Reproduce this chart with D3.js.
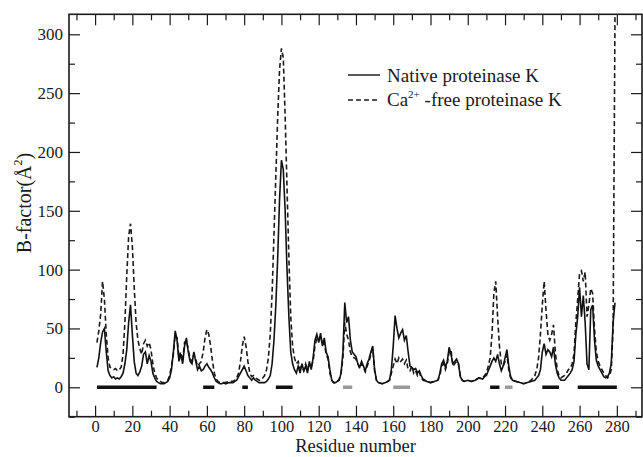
<!DOCTYPE html>
<html>
<head>
<meta charset="utf-8">
<script src="https://cdn.jsdelivr.net/npm/d3@7"></script>
<style>
    html, body { margin: 0; padding: 0; background: #fff; }
    svg text { font-family: "Liberation Serif", "Times New Roman", serif; fill: #1a1a1a; }
</style>
</head>
<body>
<div id="chart"></div>
<script>
// residue numbers shared by both series
const residues = [
    1, 2, 3, 4, 5, 6, 7, 8, 9, 10, 11, 12, 13, 14, 15, 16, 17, 18, 19, 20,
    21, 22, 23, 24, 25, 26, 27, 28, 29, 30, 31, 32, 33, 34, 35, 36, 37, 38, 39, 40,
    41, 42, 43, 44, 45, 46, 47, 48, 49, 50, 51, 52, 53, 54, 55, 56, 57, 58, 59, 60,
    61, 62, 63, 64, 65, 66, 67, 68, 69, 70, 72, 74, 75, 76, 77, 78, 79, 80,
    81, 82, 83, 84, 85, 86, 87, 88, 89, 90, 91, 92, 93, 94, 95, 96, 97, 98, 99, 100,
    101, 102, 103, 104, 105, 106, 107, 108, 109, 110, 111, 112, 113, 114, 115, 116, 117, 118, 119, 120,
    121, 122, 123, 124, 125, 126, 127, 128, 129, 130, 131, 132, 133, 134, 135, 136, 137, 138, 139, 140,
    141, 142, 143, 144, 145, 146, 147, 148, 149, 150, 151, 152, 154, 156, 158, 159, 160,
    161, 162, 163, 164, 165, 166, 167, 168, 169, 170, 171, 172, 173, 174, 175, 176, 178, 180,
    182, 184, 185, 186, 187, 188, 189, 190, 191, 192, 193, 194, 195, 196, 197, 198, 200,
    202, 204, 206, 208, 209, 210, 211, 212, 213, 214, 215, 216, 217, 218, 219, 220,
    221, 222, 223, 224, 226, 228, 230, 232, 234, 236, 237, 238, 239, 240,
    241, 242, 243, 244, 245, 246, 247, 248, 249, 250, 252, 253, 254, 255, 256, 257, 258, 259, 260,
    261, 262, 263, 264, 265, 266, 267, 268, 269, 270, 271, 272, 273, 274, 275, 276, 277, 278, 279
];

const nativeB = [
    17, 25, 38, 47, 50, 30, 14, 10, 8, 9, 7, 8, 7, 9, 12, 20, 32, 55, 70, 45,
    22, 12, 10, 13, 18, 28, 30, 20, 27, 22, 12, 8, 5, 4, 3, 3, 3, 4, 5, 8,
    15, 30, 48, 40, 22, 28, 20, 35, 42, 30, 22, 20, 30, 22, 15, 18, 14, 15, 18, 20,
    17, 15, 12, 8, 5, 4, 3, 3, 4, 3, 4, 4, 5, 6, 9, 12, 15, 18,
    14, 10, 8, 6, 8, 6, 5, 4, 4, 4, 4, 5, 7, 10, 20, 40, 70, 110, 160, 193,
    185, 150, 100, 60, 30, 20, 15, 12, 18, 12, 20, 14, 18, 12, 22, 15, 25, 40, 45, 38,
    46, 35, 42, 30, 26, 15, 6, 4, 4, 5, 6, 12, 30, 72, 55, 60, 40, 30, 28, 26,
    20, 17, 22, 18, 14, 20, 24, 30, 35, 15, 6, 4, 3, 4, 6, 15, 35,
    61, 50, 42, 46, 49, 40, 44, 30, 18, 17, 15, 16, 12, 14, 10, 7, 5, 4,
    5, 6, 12, 20, 23, 17, 22, 34, 28, 20, 22, 24, 20, 9, 6, 5, 6,
    5, 6, 8, 7, 9, 10, 14, 18, 22, 25, 22, 28, 20, 14, 18, 25,
    32, 18, 9, 6, 5, 4, 3, 4, 5, 6, 8, 10, 15, 30,
    37, 28, 32, 30, 26, 34, 20, 12, 8, 6, 6, 8, 10, 12, 15, 22, 45, 60, 85,
    60, 78, 55, 20, 15, 66, 70, 40, 23, 18, 15, 12, 9, 8, 9, 12, 20, 55, 72
];

const caFreeB = [
    38, 48, 62, 90, 75, 45, 25, 17, 16, 15, 16, 14, 15, 17, 28, 55, 95, 128, 139, 120,
    85, 55, 40, 33, 28, 37, 40, 35, 38, 32, 20, 12, 8, 6, 5, 4, 4, 5, 6, 10,
    18, 28, 45, 42, 25, 30, 22, 38, 40, 32, 24, 22, 28, 24, 18, 20, 22, 30, 42, 49,
    45, 35, 22, 12, 7, 5, 4, 4, 4, 4, 5, 5, 6, 8, 12, 22, 35, 43,
    35, 22, 12, 9, 10, 8, 7, 6, 6, 8, 10, 15, 25, 45, 80, 130, 180, 230, 270, 288,
    280, 230, 170, 110, 60, 35, 25, 20, 22, 16, 18, 14, 20, 15, 20, 18, 22, 35, 42, 40,
    44, 36, 38, 28, 24, 12, 6, 4, 4, 5, 7, 12, 25, 55, 45, 40, 30, 26, 25, 24,
    20, 16, 20, 17, 13, 18, 22, 28, 33, 14, 6, 4, 3, 4, 6, 12, 18,
    24, 20, 25, 22, 24, 20, 23, 15, 14, 18, 12, 14, 10, 13, 8, 6, 5, 4,
    5, 6, 10, 18, 20, 15, 20, 30, 32, 18, 20, 22, 20, 10, 6, 5, 6,
    5, 6, 8, 8, 10, 12, 18, 25, 45, 80, 90, 60, 35, 20, 18, 22,
    28, 15, 8, 6, 5, 4, 3, 4, 6, 10, 15, 25, 45, 70,
    90, 65, 45, 40, 45, 53, 30, 15, 10, 8, 10, 12, 15, 16, 20, 28, 55, 75, 97,
    99, 90, 98, 60, 70, 84, 80, 50, 30, 22, 18, 15, 12, 10, 8, 10, 15, 50, 315
];

// secondary-structure bars drawn on the zero line: [start, end]
const helixSpans = [[1, 33], [58, 64], [79, 82], [97, 106], [212, 217], [240, 249], [259, 280]];
const strandSpans = [[133, 138], [160, 169], [220, 224]];

const xMajorTicks = d3.range(0, 281, 20);
const xMinorTicks = d3.range(-10, 291, 10);
const yMajorTicks = d3.range(0, 301, 50);
const yMinorTicks = d3.range(-25, 317, 25);

const width = 643;
const height = 457;
const plot = { left: 69, right: 642, top: 14.3, bottom: 416.7 };

const svg = d3.select('#chart').append('svg')
    .attr('width', width)
    .attr('height', height);

const xScale = d3.scaleLinear().domain([-14, 293.5]).range([plot.left, plot.right]);
const yScale = d3.scaleLinear().domain([-25, 317]).range([plot.bottom, plot.top]);

const innerW = plot.right - plot.left;
const innerH = plot.bottom - plot.top;

function styleAxis(group) {
    group.select('.domain').remove();
    group.selectAll('line').attr('stroke', '#1a1a1a').attr('stroke-width', 1.2);
}

// bottom axis with labels
svg.append('g')
    .attr('transform', `translate(0,${plot.bottom})`)
    .call(d3.axisBottom(xScale).tickValues(xMajorTicks).tickSize(-11).tickPadding(3.5))
    .call(styleAxis)
    .call((g) => g.selectAll('text').attr('font-size', 16.5).attr('fill', '#1a1a1a'));
svg.append('g')
    .attr('transform', `translate(0,${plot.bottom})`)
    .call(d3.axisBottom(xScale).tickValues(xMinorTicks.filter((t) => t % 20 !== 0)).tickSize(-6).tickFormat(''))
    .call(styleAxis);

// top mirror ticks
svg.append('g')
    .attr('transform', `translate(0,${plot.top})`)
    .call(d3.axisTop(xScale).tickValues(xMajorTicks).tickSize(-11).tickFormat(''))
    .call(styleAxis);
svg.append('g')
    .attr('transform', `translate(0,${plot.top})`)
    .call(d3.axisTop(xScale).tickValues(xMinorTicks.filter((t) => t % 20 !== 0)).tickSize(-6).tickFormat(''))
    .call(styleAxis);

// left axis with labels
svg.append('g')
    .attr('transform', `translate(${plot.left},0)`)
    .call(d3.axisLeft(yScale).tickValues(yMajorTicks).tickSize(-11).tickPadding(6))
    .call(styleAxis)
    .call((g) => g.selectAll('text').attr('font-size', 17).attr('fill', '#1a1a1a'));
svg.append('g')
    .attr('transform', `translate(${plot.left},0)`)
    .call(d3.axisLeft(yScale).tickValues(yMinorTicks.filter((t) => t % 50 !== 0)).tickSize(-6).tickFormat(''))
    .call(styleAxis);

// right mirror ticks
svg.append('g')
    .attr('transform', `translate(${plot.right},0)`)
    .call(d3.axisRight(yScale).tickValues(yMajorTicks).tickSize(-11).tickFormat(''))
    .call(styleAxis);
svg.append('g')
    .attr('transform', `translate(${plot.right},0)`)
    .call(d3.axisRight(yScale).tickValues(yMinorTicks.filter((t) => t % 50 !== 0)).tickSize(-6).tickFormat(''))
    .call(styleAxis);

// frame
svg.append('rect')
    .attr('x', plot.left)
    .attr('y', plot.top)
    .attr('width', innerW)
    .attr('height', innerH)
    .attr('fill', 'none')
    .attr('stroke', '#1a1a1a')
    .attr('stroke-width', 1.6);

svg.append('clipPath')
    .attr('id', 'plot-clip')
    .append('rect')
    .attr('x', plot.left)
    .attr('y', plot.top)
    .attr('width', innerW)
    .attr('height', innerH);

const plotArea = svg.append('g').attr('clip-path', 'url(#plot-clip)');

// secondary structure bars
plotArea.selectAll('.helix-bar')
    .data(helixSpans)
    .enter()
    .append('line')
    .attr('class', 'helix-bar')
    .attr('x1', (d) => xScale(d[0]))
    .attr('x2', (d) => xScale(d[1]))
    .attr('y1', yScale(0))
    .attr('y2', yScale(0))
    .attr('stroke', '#111')
    .attr('stroke-width', 3.6);

plotArea.selectAll('.strand-bar')
    .data(strandSpans)
    .enter()
    .append('line')
    .attr('class', 'strand-bar')
    .attr('x1', (d) => xScale(d[0]))
    .attr('x2', (d) => xScale(d[1]))
    .attr('y1', yScale(0))
    .attr('y2', yScale(0))
    .attr('stroke', '#9a9a9a')
    .attr('stroke-width', 3.6);

const lineGen = (values) => d3.line()
    .x((d, i) => xScale(residues[i]))
    .y((d) => yScale(d))(values);

plotArea.append('path')
    .attr('d', lineGen(caFreeB))
    .attr('fill', 'none')
    .attr('stroke', '#1a1a1a')
    .attr('stroke-width', 1.6)
    .attr('stroke-dasharray', '5,3');

plotArea.append('path')
    .attr('d', lineGen(nativeB))
    .attr('fill', 'none')
    .attr('stroke', '#111')
    .attr('stroke-width', 1.6);

// legend
const legend = svg.append('g');
legend.append('line')
    .attr('x1', 348).attr('x2', 380).attr('y1', 75).attr('y2', 75)
    .attr('stroke', '#111').attr('stroke-width', 1.4);
legend.append('text')
    .attr('x', 387).attr('y', 82)
    .attr('font-size', 19)
    .text('Native proteinase K');
legend.append('line')
    .attr('x1', 348).attr('x2', 380).attr('y1', 100).attr('y2', 100)
    .attr('stroke', '#1a1a1a').attr('stroke-width', 1.4)
    .attr('stroke-dasharray', '5,3');
const caText = legend.append('text')
    .attr('x', 387).attr('y', 106)
    .attr('font-size', 19);
caText.append('tspan').text('Ca');
caText.append('tspan').attr('font-size', 11).attr('dy', -8).text('2+');
caText.append('tspan').attr('dy', 8).text(' -free proteinase K');

// axis titles
svg.append('text')
    .attr('x', (plot.left + plot.right) / 2)
    .attr('y', 452)
    .attr('text-anchor', 'middle')
    .attr('font-size', 18.5)
    .text('Residue number');

const yTitle = svg.append('text')
    .attr('transform', 'translate(31,203) rotate(-90)')
    .attr('text-anchor', 'middle')
    .attr('font-size', 20);
yTitle.append('tspan').text('B-factor(Å');
yTitle.append('tspan').attr('font-size', 12).attr('dy', -9).text('2');
yTitle.append('tspan').attr('dy', 9).text(')');
</script>
</body>
</html>
